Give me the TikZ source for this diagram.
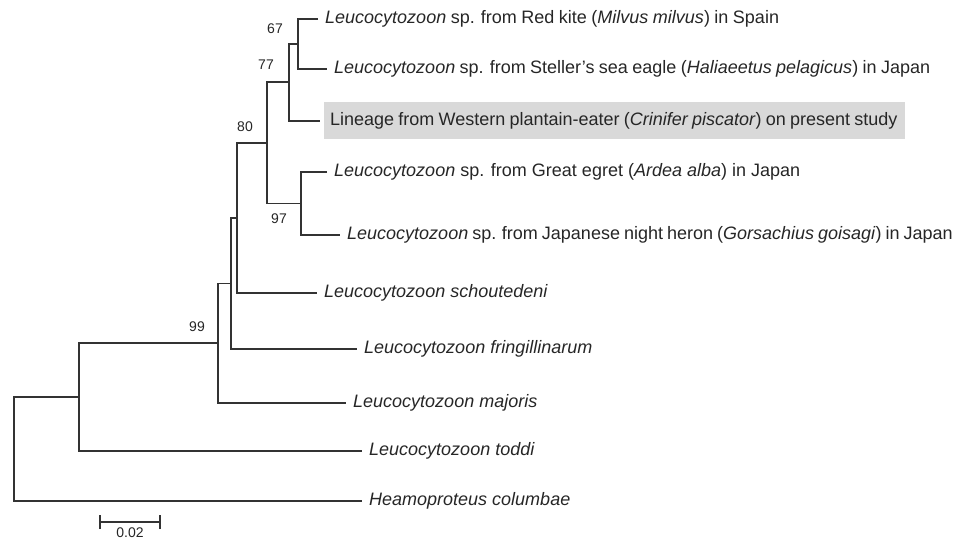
\documentclass[tikz,border=0pt]{standalone}
\usepackage{fontspec}
\setmainfont{Liberation Sans}
\begin{document}
\begin{tikzpicture}[x=1pt,y=-1pt,
  br/.style={line width=1.1pt,draw=black!80},
  ws/.style={execute at begin node={\spaceskip=#1pt\relax}},
  leaf/.style={anchor=west,inner sep=0pt,xshift=7pt,font=\fontsize{18}{20}\selectfont,text=black!85},
  boot/.style={font=\fontsize{14}{16}\selectfont,text=black!85,inner sep=0pt},
  hl/.style={anchor=west,fill=black!15,minimum height=37pt,text width=569pt,inner xsep=6pt,inner ysep=0pt,align=left,font=\fontsize{18}{20}\selectfont,text=black!85}]
\useasboundingbox (0,0) rectangle (955,540);
% tips
\coordinate (t1) at (318,19);
\coordinate (t2) at (327,69);
\coordinate (t3) at (320,121);
\coordinate (t4) at (327,172);
\coordinate (t5) at (340,235);
\coordinate (t6) at (317,293);
\coordinate (t7) at (357,349);
\coordinate (t8) at (346,403);
\coordinate (t9) at (362,451);
\coordinate (t10) at (362,501);
% internal nodes
\coordinate (nA) at (298,44);
\coordinate (nB) at (289,82);
\coordinate (nD) at (301,203.5);
\coordinate (nC) at (267,143);
\coordinate (nE) at (237,218);
\coordinate (nF) at (231,283.5);
\coordinate (nG) at (218,343);
\coordinate (nH) at (79,397);
\coordinate (nR) at (14,449);
% branches
\draw[br] (t1) -| (nA) |- (t2);
\draw[br] (nA) -| (nB) |- (t3);
\draw[br] (t4) -| (nD) |- (t5);
\draw[br] (nB) -| (nC) |- (nD);
\draw[br] (nC) -| (nE) |- (t6);
\draw[br] (nE) -| (nF) |- (t7);
\draw[br] (nF) -| (nG) |- (t8);
\draw[br] (nG) -| (nH) |- (t9);
\draw[br] (nH) -| (nR) |- (t10);
% leaves
\node[leaf,ws=4.5] (l1) at (t1) {\textit{Leucocytozoon} sp. from Red kite (\textit{Milvus milvus}) in Spain};
\node[leaf,ws=4.4] (l2) at (t2) {\textit{Leucocytozoon} sp. from Steller's sea eagle (\textit{Haliaeetus pelagicus}) in Japan};
\node[hl,ws=4.2,xshift=4pt] (l3) at (t3) {Lineage from Western plantain-eater (\textit{Crinifer piscator}) on present study};
\node[leaf] (l4) at (t4) {\textit{Leucocytozoon} sp. from Great egret (\textit{Ardea alba}) in Japan};
\node[leaf,ws=4.0] (l5) at (t5) {\textit{Leucocytozoon} sp. from Japanese night heron (\textit{Gorsachius goisagi}) in Japan};
\node[leaf] (l6) at (t6) {\textit{Leucocytozoon schoutedeni}};
\node[leaf] (l7) at (t7) {\textit{Leucocytozoon fringillinarum}};
\node[leaf] (l8) at (t8) {\textit{Leucocytozoon majoris}};
\node[leaf] (l9) at (t9) {\textit{Leucocytozoon toddi}};
\node[leaf] (l10) at (t10) {\textit{Heamoproteus columbae}};
% bootstrap
\node[boot] (b67) at (275,29) {67};
\node[boot] (b77) at (266,65) {77};
\node[boot] (b80) at (245,127) {80};
\node[boot] (b97) at (279,219) {97};
\node[boot] (b99) at (197,327) {99};
% scale bar
\coordinate (s1) at (100,522);
\coordinate (s2) at (160,522);
\draw[br] (s1) -- (s2);
\draw[br] ([yshift=-7pt]s1) -- ([yshift=7pt]s1);
\draw[br] ([yshift=-7pt]s2) -- ([yshift=7pt]s2);
\node[boot,anchor=north] (sl) at (130,528) {0.02};
\end{tikzpicture}
\end{document}
